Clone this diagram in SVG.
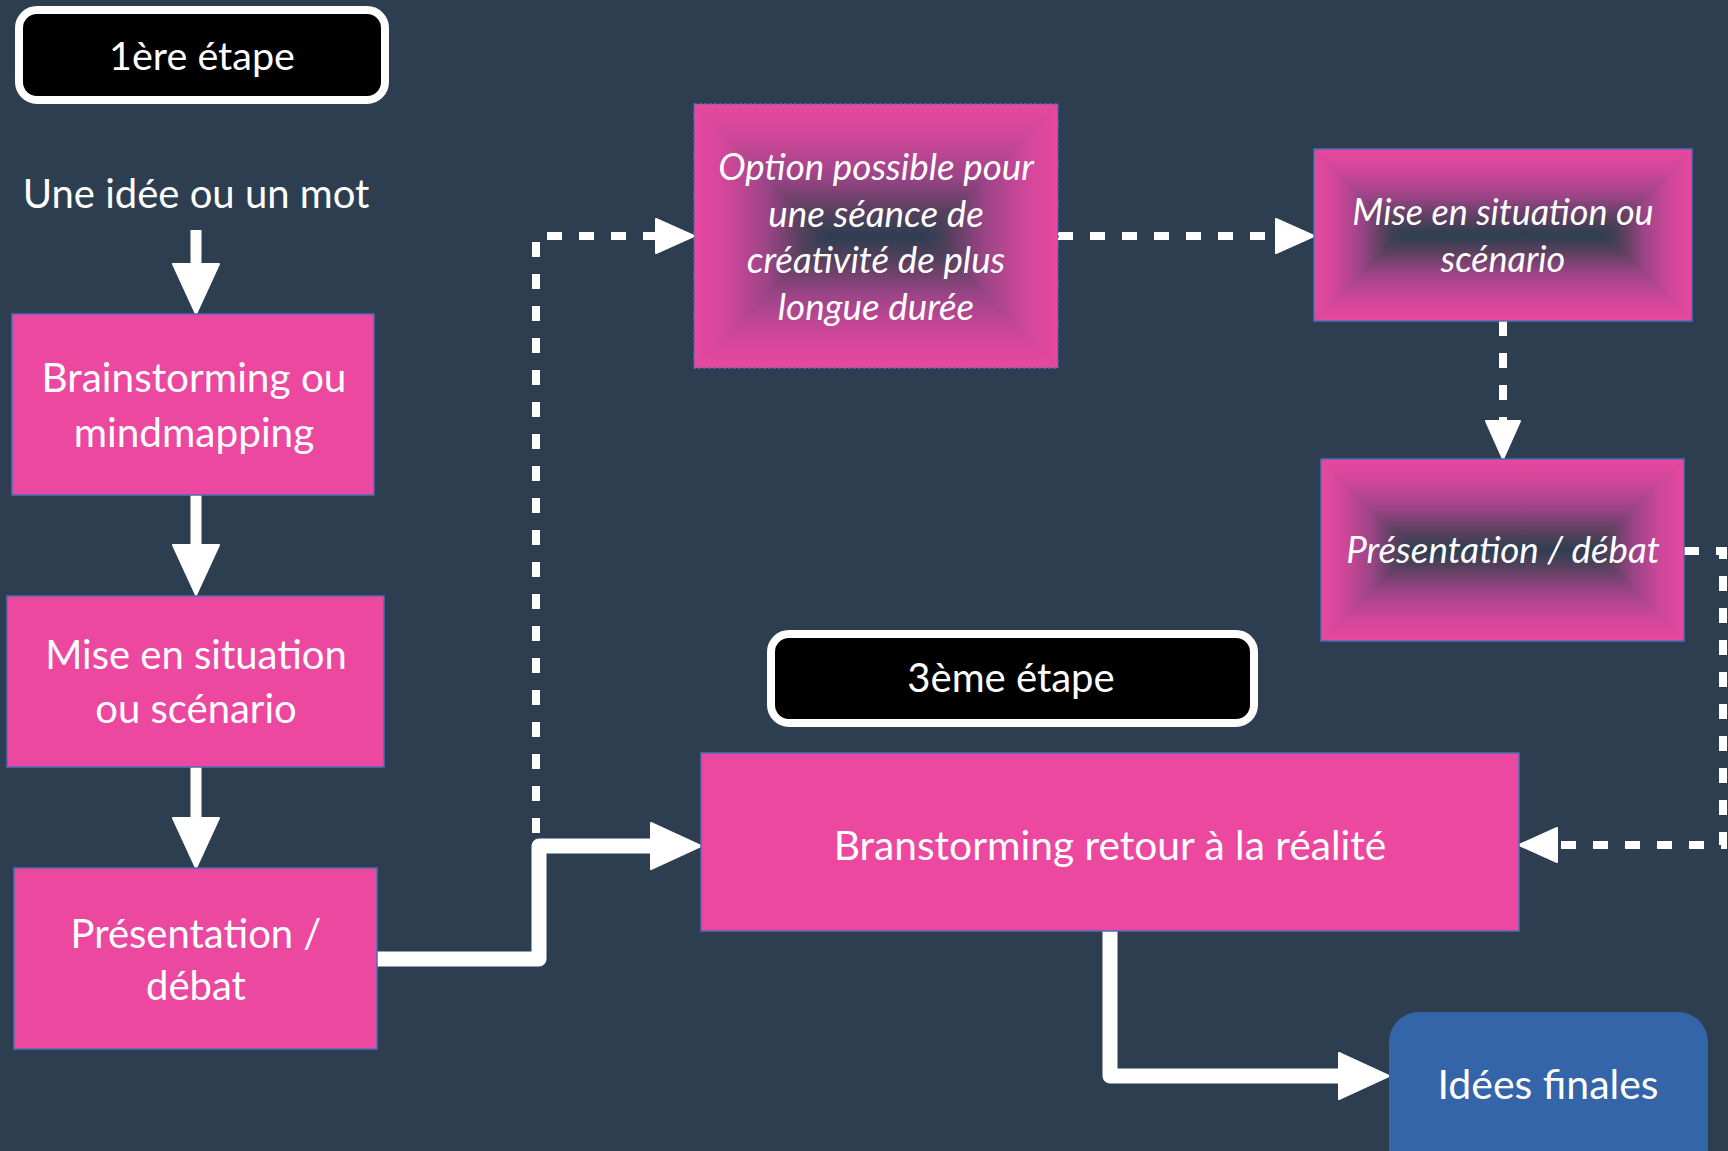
<svg xmlns="http://www.w3.org/2000/svg" width="1728" height="1151" viewBox="0 0 1728 1151">
<style>
.bg{fill:#2D3E50}
.pink{fill:#EC48A0;stroke:#4F6CB5;stroke-width:1.5}
.step{fill:#000;stroke:#fff;stroke-width:8}
.t{font-family:Lato,"Open Sans","Liberation Sans",sans-serif;fill:#fff;text-anchor:middle}
.ti{font-family:Lato,"Open Sans","Liberation Sans",sans-serif;font-style:italic;fill:#fff;text-anchor:middle}
.solid{fill:none;stroke:#fff;stroke-linejoin:round}
.dash{fill:none;stroke:#fff;stroke-width:8;stroke-dasharray:15 17}
.gbord{fill:none;stroke:#4F6CB5;stroke-width:1.5}
</style>
<defs>
<linearGradient id="gT" x1="0" y1="0" x2="0" y2="1"><stop offset="0" stop-color="#E8489E"/><stop offset="0.25" stop-color="#D0479A"/><stop offset="0.55" stop-color="#9C4487"/><stop offset="0.8" stop-color="#5A405F"/><stop offset="1" stop-color="#2D3E50"/></linearGradient>
<linearGradient id="gB" x1="0" y1="1" x2="0" y2="0"><stop offset="0" stop-color="#E8489E"/><stop offset="0.25" stop-color="#D0479A"/><stop offset="0.55" stop-color="#9C4487"/><stop offset="0.8" stop-color="#5A405F"/><stop offset="1" stop-color="#2D3E50"/></linearGradient>
<linearGradient id="gL" x1="0" y1="0" x2="1" y2="0"><stop offset="0" stop-color="#E8489E"/><stop offset="0.25" stop-color="#D0479A"/><stop offset="0.55" stop-color="#9C4487"/><stop offset="0.8" stop-color="#5A405F"/><stop offset="1" stop-color="#2D3E50"/></linearGradient>
<linearGradient id="gR" x1="1" y1="0" x2="0" y2="0"><stop offset="0" stop-color="#E8489E"/><stop offset="0.25" stop-color="#D0479A"/><stop offset="0.55" stop-color="#9C4487"/><stop offset="0.8" stop-color="#5A405F"/><stop offset="1" stop-color="#2D3E50"/></linearGradient>
<marker id="hs" markerUnits="userSpaceOnUse" viewBox="-2 -25 54 50" markerWidth="54" markerHeight="50" refX="0" refY="0" orient="auto">
<path d="M0,-23 L50,0 L0,23 Z" fill="#fff" stroke="#fff" stroke-width="2" stroke-linejoin="round"/>
</marker>
<marker id="hd" markerUnits="userSpaceOnUse" viewBox="-2 -19 42 38" markerWidth="42" markerHeight="38" refX="0" refY="0" orient="auto">
<path d="M0,-17 L38,0 L0,17 Z" fill="#fff" stroke="#fff" stroke-width="2" stroke-linejoin="round"/>
</marker>
</defs>
<rect class="bg" x="0" y="0" width="1728" height="1151"/>

<g id="connectors">
<path class="solid" stroke-width="11" d="M196,230 L196,264" marker-end="url(#hs)"/>
<path class="solid" stroke-width="11" d="M196,495 L196,545" marker-end="url(#hs)"/>
<path class="solid" stroke-width="11" d="M196,767 L196,818" marker-end="url(#hs)"/>
<path class="solid" stroke-width="15" d="M377,959 L539,959 L539,846 L651,846" marker-end="url(#hs)"/>
<path class="solid" stroke-width="15" d="M1110,931 L1110,1076 L1339,1076" marker-end="url(#hs)"/>
<path class="dash" d="M536,833 L536,236 L656,236" marker-end="url(#hd)"/>
<path class="dash" d="M1058,236 L1276,236" marker-end="url(#hd)"/>
<path class="dash" d="M1503,321 L1503,421" marker-end="url(#hd)"/>
<path class="dash" d="M1684,551 L1723,551 L1723,845 L1557,845" marker-end="url(#hd)"/>
</g>

<g id="step1">
<rect class="step" x="19" y="10" width="366" height="90" rx="18"/>
<text class="t" x="202" y="70" font-size="39.5">1ère étape</text>
</g>

<g id="start">
<text class="t" x="196" y="208" font-size="40">Une idée ou un mot</text>
</g>

<g id="n1">
<rect class="pink" x="12" y="314" width="362" height="181"/>
<text class="t" x="194" y="392" font-size="40.5">Brainstorming ou</text>
<text class="t" x="194" y="447" font-size="40.5">mindmapping</text>
</g>

<g id="n2">
<rect class="pink" x="7" y="596" width="377" height="171"/>
<text class="t" x="196" y="669" font-size="40">Mise en situation</text>
<text class="t" x="196" y="723" font-size="40">ou scénario</text>
</g>

<g id="n3">
<rect class="pink" x="14" y="868" width="363" height="181"/>
<text class="t" x="196" y="948" font-size="40">Présentation /</text>
<text class="t" x="196" y="1000" font-size="40">débat</text>
</g>

<g id="option">
<rect x="694" y="104" width="364" height="264" fill="#9C4487"/>
<polygon points="694,104 1058,104 926,236 826,236" fill="url(#gT)"/>
<polygon points="694,368 1058,368 926,236 826,236" fill="url(#gB)"/>
<polygon points="694,104 826,236 694,368" fill="url(#gL)"/>
<polygon points="1058,104 926,236 1058,368" fill="url(#gR)"/>
<rect class="gbord" x="694" y="104" width="364" height="264" stroke-dasharray="3 2"/>
<text class="ti" x="876" y="180" font-size="36.8">Option possible pour</text>
<text class="ti" x="876" y="227" font-size="36.8">une séance de</text>
<text class="ti" x="876" y="273" font-size="36.8">créativité de plus</text>
<text class="ti" x="876" y="320" font-size="36.8">longue durée</text>
</g>

<g id="mise2">
<rect x="1314" y="149" width="378" height="172" fill="#9C4487"/>
<polygon points="1314,149 1692,149 1606,235 1400,235" fill="url(#gT)"/>
<polygon points="1314,321 1692,321 1606,235 1400,235" fill="url(#gB)"/>
<polygon points="1314,149 1400,235 1314,321" fill="url(#gL)"/>
<polygon points="1692,149 1606,235 1692,321" fill="url(#gR)"/>
<rect class="gbord" x="1314" y="149" width="378" height="172"/>
<text class="ti" x="1503" y="225" font-size="36">Mise en situation ou</text>
<text class="ti" x="1503" y="272" font-size="36">scénario</text>
</g>

<g id="pres2">
<rect x="1321" y="459" width="363" height="182" fill="#9C4487"/>
<polygon points="1321,459 1684,459 1593,550 1412,550" fill="url(#gT)"/>
<polygon points="1321,641 1684,641 1593,550 1412,550" fill="url(#gB)"/>
<polygon points="1321,459 1412,550 1321,641" fill="url(#gL)"/>
<polygon points="1684,459 1593,550 1684,641" fill="url(#gR)"/>
<rect class="gbord" x="1321" y="459" width="363" height="182"/>
<text class="ti" x="1503" y="563" font-size="36.8">Présentation / débat</text>
</g>

<g id="step3">
<rect class="step" x="771" y="634" width="483" height="89" rx="18"/>
<text class="t" x="1011" y="692" font-size="40">3ème étape</text>
</g>

<g id="brain2">
<rect class="pink" x="701" y="753" width="818" height="178"/>
<text class="t" x="1110" y="860" font-size="40.7">Branstorming retour à la réalité</text>
</g>

<g id="ideas">
<rect x="1389" y="1012" width="319" height="170" rx="30" fill="#3465A8"/>
<text class="t" x="1548" y="1099" font-size="41">Idées finales</text>
</g>
</svg>
